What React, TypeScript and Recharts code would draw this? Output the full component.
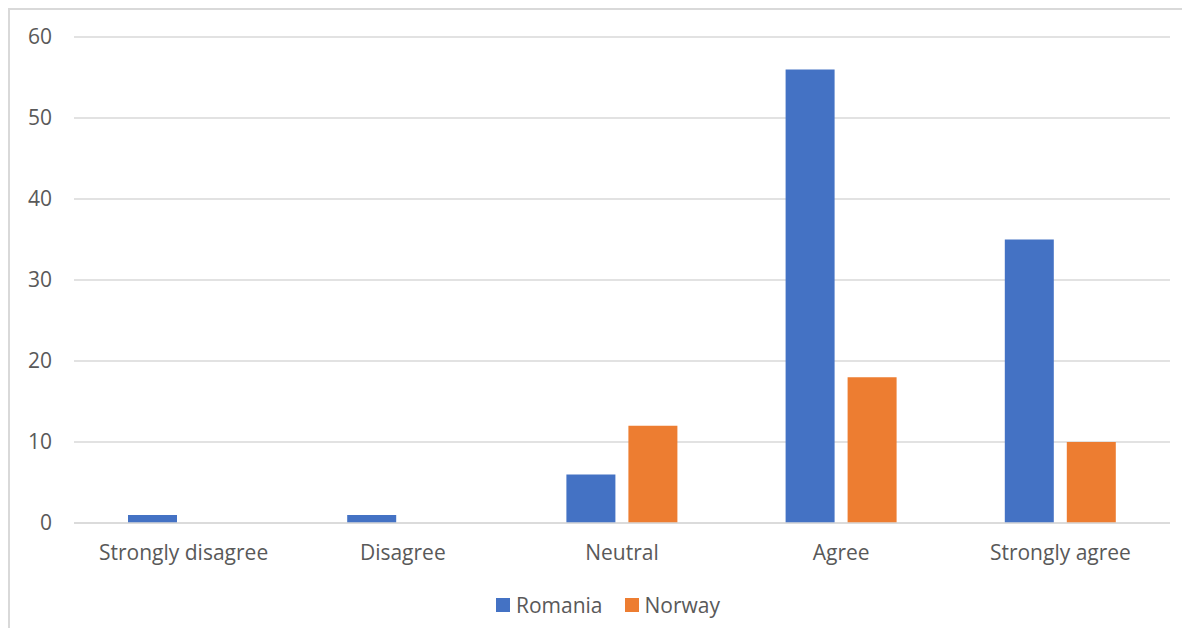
import { BarChart, Bar, XAxis, YAxis, CartesianGrid, Legend } from "recharts";

const categories = ["Strongly disagree", "Disagree", "Neutral", "Agree", "Strongly agree"];
const romania = [1, 1, 6, 56, 35];
const norway = [0, 0, 12, 18, 10];
const yTicks = [0, 10, 20, 30, 40, 50, 60];

const seriesInfo = [
  { key: "Romania", color: "#4472C4" },
  { key: "Norway", color: "#ED7D31" },
];

const data = categories.map((name, i) => ({
  name,
  Romania: romania[i],
  Norway: norway[i],
}));

const FONT = "'Open Sans', 'Noto Sans', sans-serif";
const TEXT = "#595959";
const GRID = "#D9D9D9";
const FS = 21;

function LegendBox() {
  return (
    <div style={{ display: "flex", justifyContent: "center", paddingLeft: 16, fontFamily: FONT, fontSize: FS, color: TEXT }}>
      {seriesInfo.map(s => (
        <div key={s.key} style={{ display: "flex", alignItems: "center", margin: "0 11px" }}>
          <span style={{ width: 14, height: 14, background: s.color, display: "inline-block", marginRight: 6 }} />
          <span>{s.key}</span>
        </div>
      ))}
    </div>
  );
}

export default function App() {
  return (
    <div style={{ width: 1180, height: 618, borderLeft: `2px solid ${GRID}`, borderTop: `2px solid ${GRID}`, position: "relative" }}>
      <BarChart
        width={1180}
        height={618}
        data={data}
        margin={{ top: 27, right: 20, bottom: 55, left: 0 }}
        barSize={49}
        barGap={13}
      >
        <CartesianGrid vertical={false} stroke={GRID} strokeWidth={1.5} />
        <XAxis
          dataKey="name"
          axisLine={{ stroke: GRID, strokeWidth: 1.5 }}
          tickLine={false}
          tickMargin={16}
          height={50}
          tick={{ fill: TEXT, fontSize: FS, fontFamily: FONT }}
        />
        <YAxis
          domain={[0, 60]}
          ticks={yTicks}
          axisLine={false}
          tickLine={false}
          tickMargin={16}
          width={64}
          tick={{ fill: TEXT, fontSize: FS, fontFamily: FONT }}
        />
        <Legend
          verticalAlign="middle"
          align="center"
          layout="horizontal"
          wrapperStyle={{ top: 581, left: 0, width: 1180 }}
          content={() => <LegendBox />}
        />
        {seriesInfo.map(s => (
          <Bar key={s.key} dataKey={s.key} fill={s.color} isAnimationActive={false} />
        ))}
      </BarChart>
    </div>
  );
}
